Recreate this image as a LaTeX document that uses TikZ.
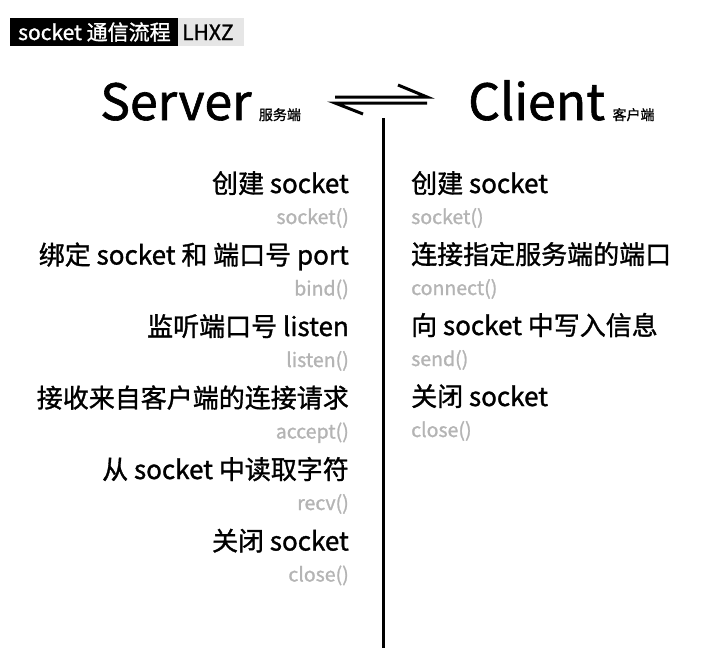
\documentclass[tikz,border=0pt]{standalone}
\usepackage{fontspec}
\setmainfont{Noto Sans CJK SC}[FakeBold=1.2]
\usepackage{xcolor}
\usepackage{tikz}
\usetikzlibrary{positioning}
\definecolor{callgray}{HTML}{B4B4B4}
\definecolor{taggray}{HTML}{E6E6E6}

\begin{document}
\begin{tikzpicture}[x=1pt,y=-1pt,
  stepl/.style={anchor=base east,inner sep=0pt,font=\fontsize{26}{26}\selectfont},
  calll/.style={anchor=base east,inner sep=0pt,text=callgray,font=\fontsize{19.5}{19.5}\selectfont},
  stepr/.style={anchor=base west,inner sep=0pt,font=\fontsize{26}{26}\selectfont},
  callr/.style={anchor=base west,inner sep=0pt,text=callgray,font=\fontsize{19.5}{19.5}\selectfont},
  head/.style={anchor=base west,inner sep=0pt,font=\fontsize{50}{50}\selectfont},
  headsub/.style={anchor=base west,inner sep=0pt,font=\fontsize{14}{14}\selectfont}]
\useasboundingbox (0,0) rectangle (723,662);
% title tag
\fill[black] (10,18) rectangle (178,46);
\fill[taggray] (178,18) rectangle (244,46);
\node[anchor=base west,inner sep=0pt,text=white,font=\fontsize{21}{21}\selectfont] (tag) at (18,40) {socket 通信流程};
\node[anchor=base west,inner sep=0pt,font=\fontsize{21}{21}\selectfont] (lhxz) at (182,40) {LHXZ};
% headings
\node[head] (server) at (100,120) {Server};
\node[headsub,right=7pt of server.base east,anchor=base west] (serversub) {服务端};
\node[head] (client) at (468,120) {Client};
\node[headsub,right=7pt of client.base east,anchor=base west] (clientsub) {客户端};
% exchange arrows
\coordinate (upl) at (335,97);
\coordinate (upr) at (427,97);
\coordinate (lol) at (335,103);
\coordinate (lor) at (427,103);
\draw[line width=3pt] (upl) -- (upr) -- ++(-29,-12);
\draw[line width=3pt] (lor) -- (lol) -- ++(28,11);
% divider
\coordinate (divtop) at (383,118);
\coordinate (divbot) at (383,648);
\draw[line width=3pt] (divtop) -- (divbot);
% server side
\node[stepl] (s1) at (349,193) {创建 socket};
\node[calll] (s1c) at (349,224) {socket()};
\node[stepl] (s2) at (349,264.5) {绑定 socket 和 端口号 port};
\node[calll] (s2c) at (349,295.5) {bind()};
\node[stepl] (s3) at (349,336) {监听端口号 listen};
\node[calll] (s3c) at (349,367) {listen()};
\node[stepl] (s4) at (349,407.5) {接收来自客户端的连接请求};
\node[calll] (s4c) at (349,438.5) {accept()};
\node[stepl] (s5) at (349,479) {从 socket 中读取字符};
\node[calll] (s5c) at (349,510) {recv()};
\node[stepl] (s6) at (349,550.5) {关闭 socket};
\node[calll] (s6c) at (349,581.5) {close()};
% client side
\node[stepr] (c1) at (411,193) {创建 socket};
\node[callr] (c1c) at (411,224) {socket()};
\node[stepr] (c2) at (411,264) {连接指定服务端的端口};
\node[callr] (c2c) at (411,295) {connect()};
\node[stepr] (c3) at (411,335) {向 socket 中写入信息};
\node[callr] (c3c) at (411,366) {send()};
\node[stepr] (c4) at (411,406) {关闭 socket};
\node[callr] (c4c) at (411,437) {close()};
\end{tikzpicture}
\end{document}
